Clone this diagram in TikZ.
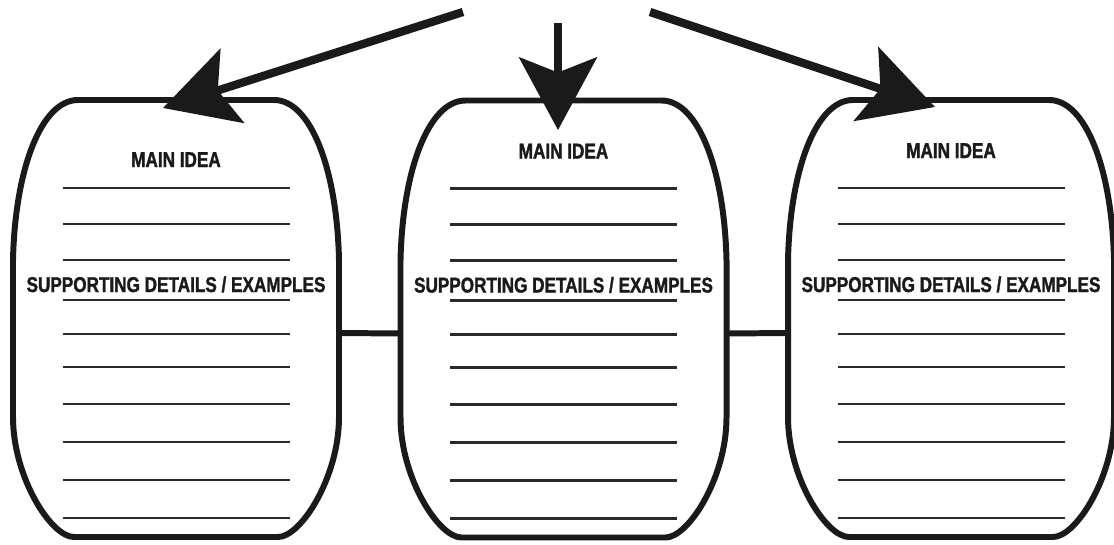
\documentclass[tikz,border=0pt]{standalone}
\usepackage{fontspec}
\setmainfont{Liberation Sans}[FakeStretch=0.8, BoldFeatures={FakeBold=1.5}]
\usetikzlibrary{arrows.meta}

\definecolor{ink}{HTML}{1A1A1A}
\definecolor{rulegray}{HTML}{2A2A2A}

\tikzset{
  organizer/.style={minimum width=6.52cm, minimum height=8.74cm, inner sep=0pt},
  boxline/.style={draw=ink, line width=3.4pt},
  ruleline/.style={draw=rulegray, line width=1.2pt},
  heading/.style={font=\fontsize{12.2}{13}\selectfont\bfseries, text=ink, inner sep=0pt, anchor=base},
  bigarrow/.style={draw=ink, line width=4.7pt, -{Stealth[length=1.45cm, width=1.55cm, inset=0.3cm]}}
}

\begin{document}
\begin{tikzpicture}[x=0.02cm, y=-0.02cm]
  \useasboundingbox (0,0) rectangle (1114,544);

  % the three organizer boxes
  \node[organizer] (b1) at (176,318.5) {};
  \node[organizer] (b2) at (563.5,319) {};
  \node[organizer] (b3) at (951,318.5) {};

  \foreach \b/\my in {b1/-151.5, b2/-160.5, b3/-160.5} {
    \begin{scope}[shift={(\b.center)}]
      \draw[boxline] (-98,-218.5) -- (98,-218.5)
        .. controls (135,-218.5) and (161,-148.5) .. (163,-58.5) -- (163,98.5)
        .. controls (163,158.5) and (125,218.5) .. (102,218.5) -- (-102,218.5)
        .. controls (-125,218.5) and (-163,158.5) .. (-163,98.5) -- (-163,-58.5)
        .. controls (-161,-148.5) and (-135,-218.5) .. (-98,-218.5) -- cycle;
      \node[heading] (\b-main) at (0,\my) {MAIN IDEA};
      \node[heading] (\b-sub) at (0,-26.5) {SUPPORTING DETAILS / EXAMPLES};
      \foreach \y in {-130.5,-94.5,-58.5,-18.5,15.5,48.5,85.5,123.5,161.5,199.5}
        \draw[ruleline] (-113.5,\y) -- (113.5,\y);
    \end{scope}
  }

  % links between the boxes
  \draw[boxline] ([shift={(0,14.5)}]b1.east) -- ([shift={(0,14.5)}]b2.west);
  \draw[boxline] ([shift={(0,14.5)}]b2.east) -- ([shift={(0,14.5)}]b3.west);

  % arrows coming in from the top
  \coordinate (src1) at (463,12);
  \coordinate (src2) at (558,23);
  \coordinate (src3) at (650,12);
  \coordinate (tip1) at (163,108);
  \coordinate (tip2) at (558,130);
  \coordinate (tip3) at (935,107);
  \draw[bigarrow] (src1) -- (tip1);
  \draw[bigarrow] (src2) -- (tip2);
  \draw[bigarrow] (src3) -- (tip3);
\end{tikzpicture}
\end{document}
